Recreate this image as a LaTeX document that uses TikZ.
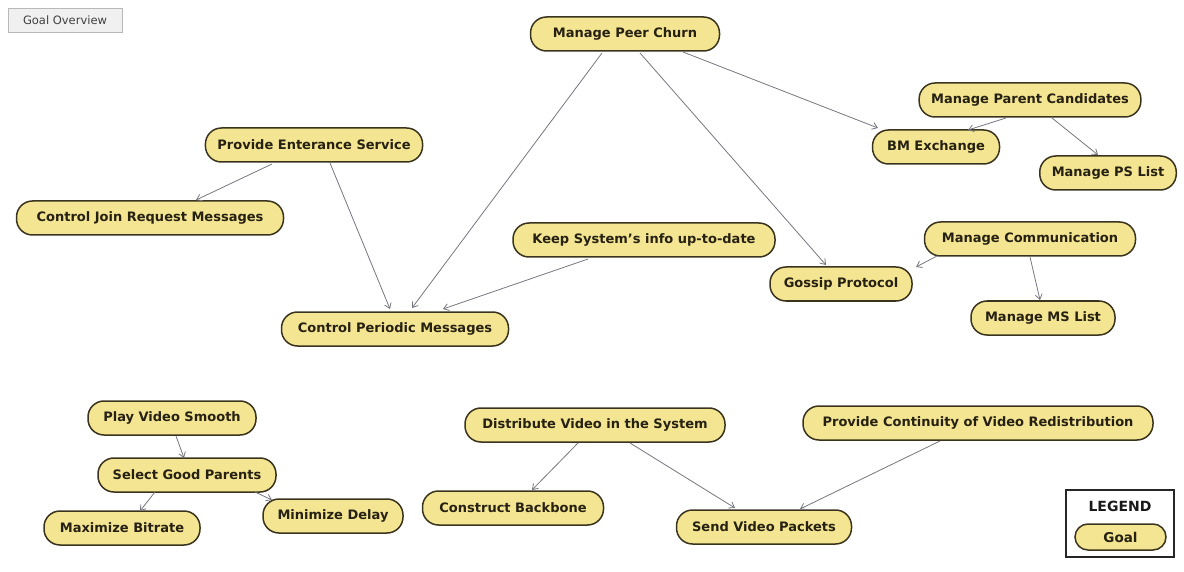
\documentclass[tikz,border=0pt]{standalone}
\usepackage{fontspec}
\setmainfont{DejaVu Sans}
\usetikzlibrary{arrows.meta,calc}
\definecolor{goalfill}{RGB}{244,229,146}
\definecolor{goalline}{RGB}{58,52,30}
\definecolor{goaltext}{RGB}{38,33,18}
\definecolor{linkgray}{RGB}{118,118,128}
\begin{document}
\begin{tikzpicture}[x=1pt,y=-1pt,
  goal/.style={draw=goalline,fill=goalfill,line width=1.5pt,rounded corners=16pt,
    minimum height=34pt,inner xsep=12pt,inner ysep=0pt,font=\fontsize{13}{14}\selectfont\bfseries,
    text=goaltext},
  link/.style={draw=linkgray,line width=0.8pt,-{Straight Barb[length=5pt,width=7pt]}}]
\useasboundingbox (0,0) rectangle (1184,572);

% view title button
\node[draw=gray!55,fill=gray!12,line width=0.8pt,minimum width=114pt,minimum height=24pt,
  inner sep=0pt,font=\fontsize{11.5}{12}\selectfont,text=black!75] (title) at (65,20) {Goal Overview};

% goals
\node[goal,minimum width=189pt] (churn)  at (625,34)  {Manage Peer Churn};
\node[goal,minimum width=220pt] (cand)   at (1030,100) {Manage Parent Candidates};
\node[goal,minimum width=207pt] (entr)   at (314,145) {Provide Enterance Service};
\node[goal,minimum width=127pt] (bm)     at (936,147) {BM Exchange};
\node[goal,minimum width=128pt] (ps)     at (1108,173) {Manage PS List};
\node[goal,minimum width=267pt] (join)   at (150,218) {Control Join Request Messages};
\node[goal,minimum width=262pt] (info)   at (644,240) {Keep System's info up-to-date};
\node[goal,minimum width=211pt] (comm)   at (1030,239) {Manage Communication};
\node[goal,minimum width=142pt] (gossip) at (841,284) {Gossip Protocol};
\node[goal,minimum width=144pt] (ms)     at (1043,318) {Manage MS List};
\node[goal,minimum width=227pt] (period) at (395,329) {Control Periodic Messages};
\node[goal,minimum width=168pt] (play)   at (172,418) {Play Video Smooth};
\node[goal,minimum width=260pt] (distr)  at (595,425) {Distribute Video in the System};
\node[goal,minimum width=350pt] (cont)   at (978,423) {Provide Continuity of Video Redistribution};
\node[goal,minimum width=178pt] (select) at (187,475) {Select Good Parents};
\node[goal,minimum width=156pt] (bitrate) at (122,528) {Maximize Bitrate};
\node[goal,minimum width=140pt] (delay)  at (333,516) {Minimize Delay};
\node[goal,minimum width=181pt] (backb)  at (513,508) {Construct Backbone};
\node[goal,minimum width=175pt] (send)   at (764,527) {Send Video Packets};

% refinement links
\draw[link] ($(churn)+(-23,19)$) -- ($(period)+(17,-21)$);
\draw[link] ($(churn)+(15,19)$) -- ($(gossip)+(-15,-19)$);
\draw[link] ($(churn)+(58,18)$) -- ($(bm)+(-58,-19)$);
\draw[link] ($(cand)+(-24,18)$) -- ($(bm)+(32,-17)$);
\draw[link] ($(cand)+(22,18)$) -- ($(ps)+(-10,-18)$);
\draw[link] ($(entr)+(-42,19)$) -- ($(join)+(46,-18)$);
\draw[link] ($(entr)+(16,18)$) -- ($(period)+(-5,-20)$);
\draw[link] ($(info)+(-56,19)$) -- ($(period)+(48,-20)$);
\draw[link] ($(comm)+(-93,17)$) -- ($(gossip)+(75,-17)$);
\draw[link] ($(comm)+(0,18)$) -- ($(ms)+(-3,-18)$);
\draw[link] ($(play)+(4,18)$) -- ($(select)+(-3,-17)$);
\draw[link] ($(select)+(-32,17)$) -- ($(bitrate)+(18,-17)$);
\draw[link] ($(select)+(68,17)$) -- ($(delay)+(-61,-16)$);
\draw[link] ($(distr)+(-17,18)$) -- ($(backb)+(19,-18)$);
\draw[link] ($(distr)+(35,18)$) -- ($(send)+(-29,-19)$);
\draw[link] ($(cont)+(-38,18)$) -- ($(send)+(36,-18)$);

% legend
\node[draw=black!85,line width=1.3pt,minimum width=108pt,minimum height=67pt,inner sep=0pt] (legend) at (1120,523.5) {};
\node[font=\fontsize{14}{15}\selectfont\bfseries,text=black!90] (legtitle) at (1120,506) {LEGEND};
\node[goal,minimum width=91pt,minimum height=26pt,rounded corners=13pt,font=\fontsize{13.5}{15}\selectfont\bfseries] (leggoal) at (1120.5,537) {Goal};
\end{tikzpicture}
\end{document}
